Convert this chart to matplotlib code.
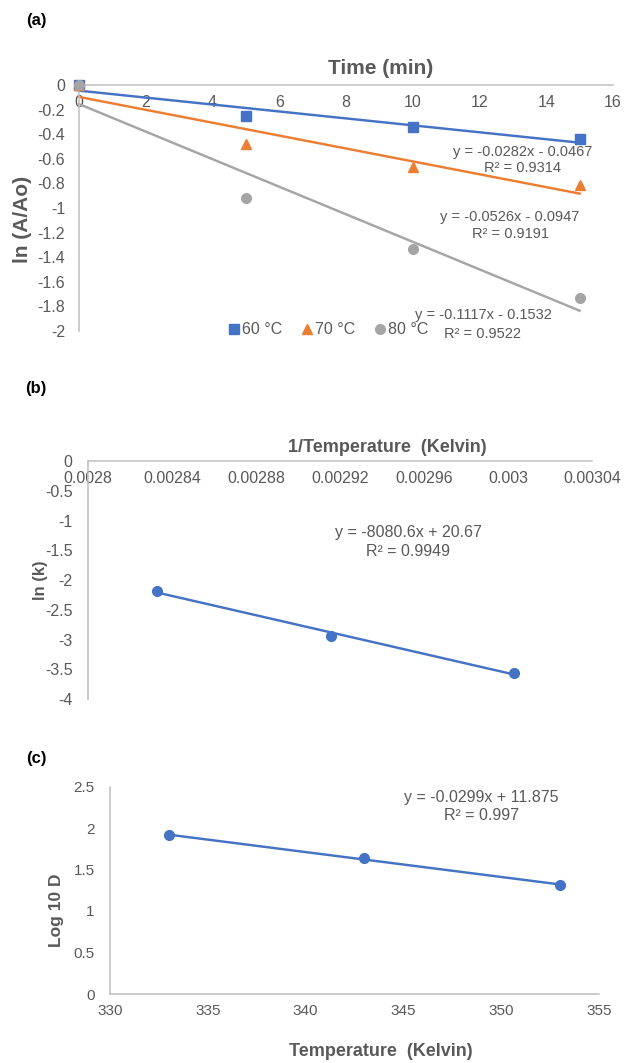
import numpy as np
import matplotlib
matplotlib.use("Agg")
import matplotlib.pyplot as plt
from matplotlib.ticker import FuncFormatter

plt.rcParams['font.family'] = ['Liberation Sans', 'DejaVu Sans']
plt.rcParams['axes.unicode_minus'] = False

# (a) ln(A/Ao) vs time at three temperatures
time_min = [0, 5, 10, 15]
ln_a_60 = [0, -0.25, -0.34, -0.44]
ln_a_70 = [0, -0.48, -0.67, -0.81]
ln_a_80 = [0, -0.92, -1.33, -1.73]
series_labels = ['60 °C', '70 °C', '80 °C']
eq_a = [("y = -0.0282x - 0.0467", "R² = 0.9314"),
        ("y = -0.0526x - 0.0947", "R² = 0.9191"),
        ("y = -0.1117x - 0.1532", "R² = 0.9522")]

# (b) Arrhenius plot
inv_temp = [0.002833, 0.0029155, 0.003003]
ln_k = [-2.18, -2.94, -3.56]
eq_b = ("y = -8080.6x + 20.67", "R² = 0.9949")

# (c) log D vs temperature
temp_k = [333, 343, 353]
log_d = [1.91, 1.64, 1.31]
eq_c = ("y = -0.0299x + 11.875", "R² = 0.997")

W, H = 636, 1063
GRAY_TXT = '#595959'
GRAY_AX = '#BFBFBF'
BLUE, ORANGE, GREY = '#4472C4', '#ED7D31', '#A5A5A5'


def px(x, y):
    return x / W, 1 - y / H


def ax_rect(left, top, right, bottom):
    return [left / W, 1 - bottom / H, (right - left) / W, (bottom - top) / H]


def fmt(v, pos):
    v = round(v, 6)
    if v == 0:
        return "0"
    return f"{v:g}"


def style(ax, xpad=7, ypad=10, size=11.5, top_axis=True):
    ax.spines['top'].set_visible(False)
    ax.spines['right'].set_visible(False)
    for s in ['left', 'bottom']:
        ax.spines[s].set_color(GRAY_AX)
        ax.spines[s].set_linewidth(1.1)
    if top_axis:
        ax.spines['bottom'].set_position(('data', 0))
    ax.tick_params(length=0, labelsize=size, colors=GRAY_TXT)
    ax.tick_params(axis='x', pad=xpad)
    ax.tick_params(axis='y', pad=ypad)
    ax.xaxis.set_major_formatter(FuncFormatter(fmt))
    ax.yaxis.set_major_formatter(FuncFormatter(fmt))


def equation(lines, x, y1, y2, size):
    fig.text(*px(x, y1), lines[0], ha='center', va='center', fontsize=size, color=GRAY_TXT)
    fig.text(*px(x, y2), lines[1], ha='center', va='center', fontsize=size, color=GRAY_TXT)


fig = plt.figure(figsize=(W / 100, H / 100), dpi=100)

# ---------- (a) ----------
ax1 = fig.add_axes(ax_rect(79, 85, 613, 331))
xs = np.array(time_min)
styles = [(ln_a_60, BLUE, 's'), (ln_a_70, ORANGE, '^'), (ln_a_80, GREY, 'o')]
handles = []
for (vals, col, mk), lab in zip(styles, series_labels):
    m, b = np.polyfit(xs, vals, 1)
    ax1.plot([xs[0], xs[-1]], [m * xs[0] + b, m * xs[-1] + b], color=col, lw=1.75,
             clip_on=False, zorder=2)
for (vals, col, mk), lab in zip(styles, series_labels):
    h, = ax1.plot(xs, vals, linestyle='none', marker=mk, color=col, markersize=7,
                  clip_on=False, zorder=3, label=lab)
    handles.append(h)
ax1.set_xlim(0, 16)
ax1.set_ylim(-2, 0)
ax1.set_xticks(np.arange(0, 17, 2))
ax1.set_yticks(np.linspace(-2, 0, 11))
style(ax1)
ax1.legend(handles=handles, loc='center', bbox_to_anchor=px(328, 330),
           bbox_transform=fig.transFigure, ncol=3, frameon=False, fontsize=11.5,
           labelcolor=GRAY_TXT, handlelength=0.7, handletextpad=0.15,
           columnspacing=1.2, borderpad=0)

equation(eq_a[0], 523, 151.7, 168.3, 10.5)
equation(eq_a[1], 510, 217.3, 234.3, 10.5)
equation(eq_a[2], 483, 315, 334, 10.5)

fig.text(*px(36, 20), "(a)", ha='center', va='center', fontsize=12, fontweight='bold')
fig.text(*px(381, 68), "Time (min)", ha='center', va='center', fontsize=15,
         fontweight='bold', color=GRAY_TXT)
fig.text(*px(23, 219), "ln (A/Ao)", ha='center', va='center', fontsize=15,
         fontweight='bold', color=GRAY_TXT, rotation=90)

# ---------- (b) ----------
ax2 = fig.add_axes(ax_rect(88, 461, 592, 699))
xb = np.array(inv_temp)
m, b = np.polyfit(xb, ln_k, 1)
ax2.plot([xb[0], xb[-1]], [m * xb[0] + b, m * xb[-1] + b], color=BLUE, lw=1.75, zorder=2)
ax2.plot(xb, ln_k, linestyle='none', marker='o', color=BLUE, markersize=7, zorder=3)
ax2.set_xlim(0.0028, 0.00304)
ax2.set_ylim(-4, 0)
ax2.set_xticks(np.linspace(0.0028, 0.00304, 7))
ax2.set_yticks(np.linspace(-4, 0, 9))
style(ax2, ypad=11)

equation(eq_b, 408, 532.7, 551.7, 11.5)
fig.text(*px(36, 388), "(b)", ha='center', va='center', fontsize=12, fontweight='bold')
fig.text(*px(387.5, 447), "1/Temperature  (Kelvin)", ha='center', va='center',
         fontsize=13, fontweight='bold', color=GRAY_TXT)
fig.text(*px(40, 580), "ln (k)", ha='center', va='center', fontsize=12,
         fontweight='bold', color=GRAY_TXT, rotation=90)

# ---------- (c) ----------
ax3 = fig.add_axes(ax_rect(110, 786.5, 599, 994))
xc = np.array(temp_k)
m, b = np.polyfit(xc, log_d, 1)
ax3.plot([xc[0], xc[-1]], [m * xc[0] + b, m * xc[-1] + b], color=BLUE, lw=1.75, zorder=2)
ax3.plot(xc, log_d, linestyle='none', marker='o', color=BLUE, markersize=7, zorder=3)
ax3.set_xlim(330, 355)
ax3.set_ylim(0, 2.5)
ax3.set_xticks(np.arange(330, 356, 5))
ax3.set_yticks(np.linspace(0, 2.5, 6))
style(ax3, ypad=11, size=11, top_axis=False)

equation(eq_c, 481.7, 797.3, 815, 11.5)
fig.text(*px(36, 758), "(c)", ha='center', va='center', fontsize=12, fontweight='bold')
fig.text(*px(381, 1051), "Temperature  (Kelvin)", ha='center', va='center',
         fontsize=13, fontweight='bold', color=GRAY_TXT)
fig.text(*px(57, 910), "Log 10 D", ha='center', va='center', fontsize=12.5,
         fontweight='bold', color=GRAY_TXT, rotation=90)

fig.savefig("out.png", dpi=100, facecolor='white')
